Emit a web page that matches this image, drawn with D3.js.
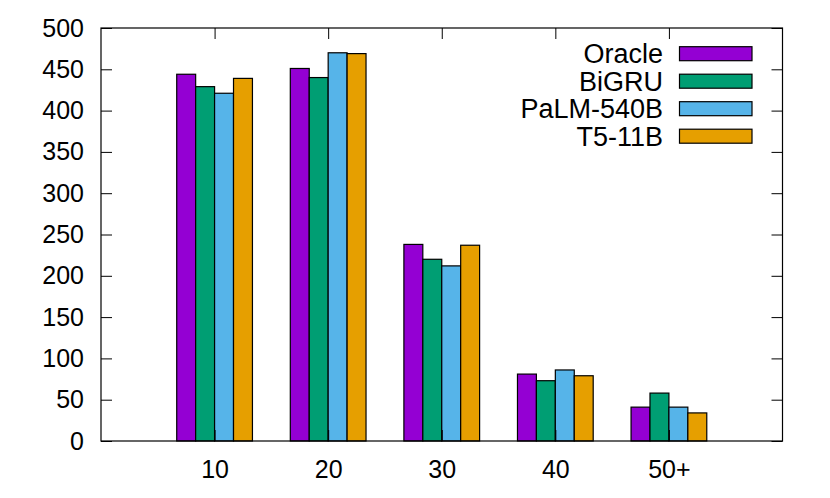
<!DOCTYPE html>
<html><head><meta charset="utf-8">
<script src="https://cdn.jsdelivr.net/npm/d3@7"></script>
<style>body{margin:0;background:#fff}svg{display:block}text{font-family:"Liberation Sans",Arial,sans-serif}</style>
</head><body>
<svg id="c" width="830" height="498"></svg>
<script>
const categories = ["10","20","30","40","50+"];
const seriesNames = ["Oracle","BiGRU","PaLM-540B","T5-11B"];
const oracle = [444, 451, 238, 81, 41];
const bigru = [429, 440, 220, 73, 58];
const palm = [421, 470, 212, 86, 41];
const t5 = [439, 469, 237, 79, 34];
const colors = ["#9400D3","#009E73","#56B4E9","#E69F00"];
const yTicks = [0,50,100,150,200,250,300,350,400,450,500];
const series = [oracle, bigru, palm, t5];

(function(){
const svg = d3.select("#c");
const L = 101, R = 782.5, T = 28, B = 441;
const x = d3.scaleLinear().domain([0, categories.length + 1]).range([L, R]);
const y = d3.scaleLinear().domain([0, 500]).range([B, T]);
const fs = 25;
const bw = 1/6;

// bars
series.forEach((vals, si) => {
  svg.append("g").selectAll("rect").data(vals).join("rect")
    .attr("x", (d, i) => x(i + 1 - 2*bw + si*bw))
    .attr("width", x(bw) - x(0))
    .attr("y", d => y(d))
    .attr("height", d => y(0) - y(d))
    .attr("fill", colors[si])
    .attr("stroke", "#000").attr("stroke-width", 1.2);
});

// axes with inward ticks
const tickLen = 11;
const leftAxis = d3.axisLeft(y).tickValues(yTicks).tickSize(-tickLen).tickPadding(tickLen + 6);
svg.append("g").attr("transform", `translate(${L},0)`).call(leftAxis);
const rightAxis = d3.axisRight(y).tickValues(yTicks).tickSize(-tickLen).tickFormat("");
svg.append("g").attr("transform", `translate(${R},0)`).call(rightAxis);
const bottomAxis = d3.axisBottom(x).tickValues(d3.range(1, categories.length + 1))
  .tickFormat(d => categories[d - 1]).tickSize(-tickLen).tickPadding(tickLen + 8);
svg.append("g").attr("transform", `translate(0,${B})`).call(bottomAxis);
const topAxis = d3.axisTop(x).tickValues(d3.range(1, categories.length + 1)).tickSize(-tickLen).tickFormat("");
svg.append("g").attr("transform", `translate(0,${T})`).call(topAxis);
svg.selectAll(".domain").remove();
svg.selectAll(".tick line").attr("stroke", "#000").attr("stroke-width", 1);
svg.selectAll(".tick text").attr("font-size", fs).attr("fill", "#000");

// frame
svg.append("rect").attr("x", L).attr("y", T).attr("width", R - L).attr("height", B - T)
  .attr("fill", "none").attr("stroke", "#000").attr("stroke-width", 1.2);

// legend
const lg = svg.append("g");
seriesNames.forEach((n, i) => {
  const cy = 53.7 + i * 27.5;
  lg.append("text").attr("x", 663).attr("y", cy).attr("dy", "0.35em")
    .attr("text-anchor", "end").attr("font-size", 27).text(n);
  lg.append("rect").attr("x", 679.5).attr("y", cy - 7).attr("width", 72.5).attr("height", 14)
    .attr("fill", colors[i]).attr("stroke", "#000").attr("stroke-width", 1.2);
});
})();
</script>
</body></html>
